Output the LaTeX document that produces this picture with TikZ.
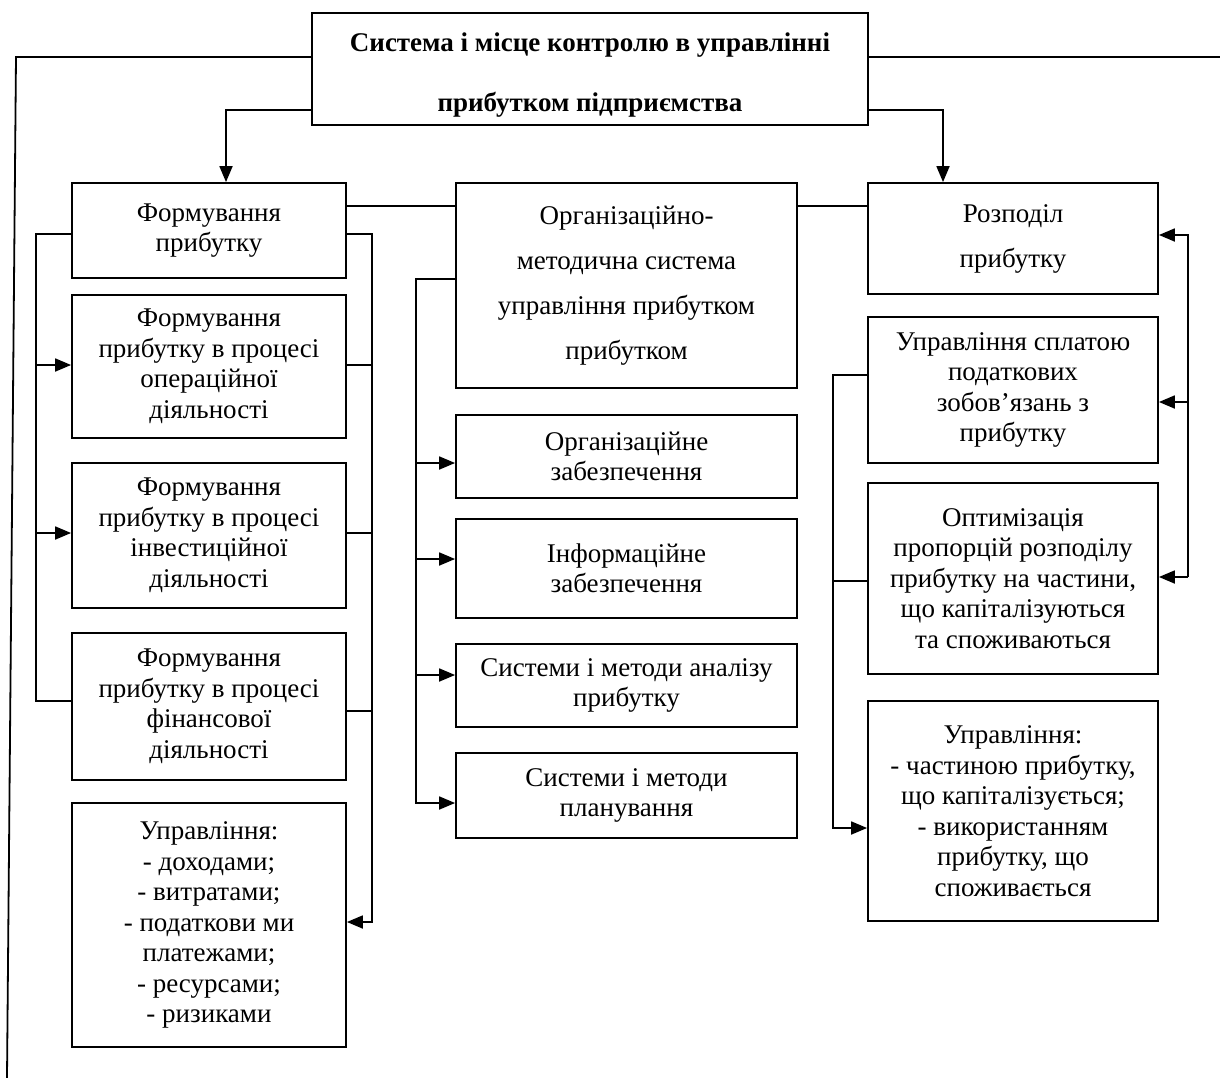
\documentclass[tikz,border=0pt]{standalone}
\usepackage{fontspec}
\setmainfont{Liberation Serif}
\usetikzlibrary{arrows.meta}
\tikzset{
  box/.style={draw, line width=1.8pt, align=center, inner sep=0pt, font=\fontsize{27}{30.5}\selectfont},
  wide/.style={font=\fontsize{27}{45}\selectfont},
  ttl/.style={font=\bfseries\fontsize{27}{60}\selectfont},
  ln/.style={line width=1.8pt},
  arr/.style={line width=1.8pt, -{Triangle[length=16pt,width=13pt]}}
}
\begin{document}
\begin{tikzpicture}[x=1pt, y=-1pt]
\useasboundingbox (0,0) rectangle (1220,1078);
% boxes
\node[box, ttl, minimum width=556pt, minimum height=112pt] (title) at (590,69) {\rule{0pt}{31pt}Система і місце контролю в управлінні\\прибутком підприємства};
\node[box, minimum width=274pt, minimum height=95pt] (form) at (209,230.5) {Формування\\прибутку};
\node[box, minimum width=274pt, minimum height=143pt] (op) at (209,366.5) {Формування\\прибутку в процесі\\операційної\\діяльності};
\node[box, minimum width=274pt, minimum height=145pt] (inv) at (209,535.5) {Формування\\прибутку в процесі\\інвестиційної\\діяльності};
\node[box, minimum width=274pt, minimum height=147pt] (fin) at (209,706.5) {Формування\\прибутку в процесі\\фінансової\\діяльності};
\node[box, minimum width=274pt, minimum height=244pt] (mgmt) at (209,925) {Управління:\\- доходами;\\- витратами;\\- податкови ми\\платежами;\\- ресурсами;\\- ризиками};
\node[box, wide, minimum width=341pt, minimum height=205pt] (orgm) at (626.5,285.5) {Організаційно-\\методична система\\управління прибутком\\прибутком};
\node[box, minimum width=341pt, minimum height=83pt] (orgz) at (626.5,456.5) {Організаційне\\забезпечення};
\node[box, minimum width=341pt, minimum height=99pt] (info) at (626.5,568.5) {Інформаційне\\забезпечення};
\node[box, minimum width=341pt, minimum height=83pt] (anal) at (626.5,685.5) {Системи і методи аналізу\\прибутку};
\node[box, minimum width=341pt, minimum height=85pt] (plan) at (626.5,795.5) {Системи і методи\\планування};
\node[box, wide, minimum width=290pt, minimum height=111pt] (rozp) at (1013,238.5) {Розподіл\\прибутку};
\node[box, minimum width=290pt, minimum height=146pt] (tax) at (1013,390) {Управління сплатою\\податкових\\зобов’язань з\\прибутку};
\node[box, minimum width=290pt, minimum height=191pt] (opt) at (1013,578.5) {Оптимізація\\пропорцій розподілу\\прибутку на частини,\\що капіталізуються\\та споживаються};
\node[box, minimum width=290pt, minimum height=220pt] (upr) at (1013,811) {Управління:\\- частиною прибутку,\\що капіталізується;\\- використанням\\прибутку, що\\споживається};
% free ends
\coordinate (lend) at (7,1078);
\coordinate (rend) at (1220,57);
% title connectors
\draw[ln] (title.west |- 0,57) -- (16,57) -- (lend);
\draw[ln] (title.east |- 0,57) -- (rend);
\draw[arr] (title.west |- 0,110) -| (form.north -| 226,0);
\draw[arr] (title.east |- 0,110) -| (rozp.north -| 943,0);
% horizontal links
\draw[ln] (form.east |- 0,206) -- (orgm.west |- 0,206);
\draw[ln] (orgm.east |- 0,206) -- (rozp.west |- 0,206);
% left column, left bracket
\draw[ln] (form.west |- 0,234) -- (36,234) -- (36,701) -- (fin.west |- 0,701);
\draw[arr] (36,365) -- (op.west |- 0,365);
\draw[arr] (36,533) -- (inv.west |- 0,533);
% left column, right bracket
\draw[arr] (form.east |- 0,234) -- (372,234) -- (372,922) -- (mgmt.east |- 0,922);
\draw[ln] (op.east |- 0,365) -- (372,365);
\draw[ln] (inv.east |- 0,533) -- (372,533);
\draw[ln] (fin.east |- 0,711) -- (372,711);
% middle bracket
\draw[arr] (orgm.west |- 0,279) -- (416,279) -- (416,803) -- (plan.west |- 0,803);
\draw[arr] (416,463) -- (orgz.west |- 0,463);
\draw[arr] (416,559) -- (info.west |- 0,559);
\draw[arr] (416,675) -- (anal.west |- 0,675);
% right column, right bracket
\coordinate (rs) at (1188,577);
\draw[arr] (rs) |- (rozp.east |- 0,235);
\draw[arr] (1188,402) -- (tax.east |- 0,402);
\draw[arr] (rs) -- (opt.east |- 0,577);
% right column, left bracket
\draw[arr] (tax.west |- 0,375) -- (833,375) -- (833,828) -- (upr.west |- 0,828);
\draw[ln] (opt.west |- 0,581) -- (833,581);
\end{tikzpicture}
\end{document}
